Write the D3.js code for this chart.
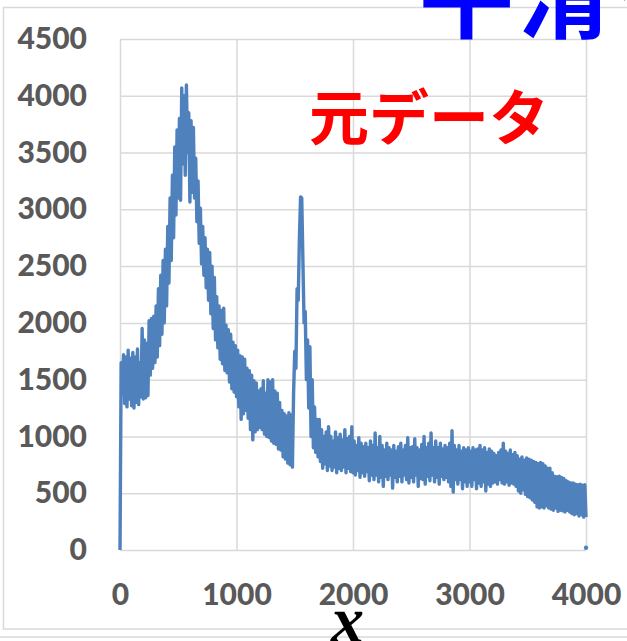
<!DOCTYPE html>
<html>
<head>
<meta charset="utf-8">
<script src="https://cdn.jsdelivr.net/npm/d3@7"></script>
<style>
  html, body { margin: 0; padding: 0; background: #fff; }
  svg { display: block; }
</style>
</head>
<body>
<svg id="chart" width="627" height="641"></svg>
<script>
// Raw signal, sampled every 10 units along x (one row = 100 units, starting at x = 0)
const sampleStep = 10;
const rawValues = [
  0, 1650, 1380, 1720, 1290, 1700, 1260, 1760, 1330, 1690,
  1270, 1740, 1250, 1700, 1300, 1770, 1280, 1650, 1350, 1950,
  1330, 1850, 1340, 1820, 1360, 2020, 1540, 2040, 1600, 2060,
  1650, 2150, 1700, 2300, 1800, 2420, 1900, 2550, 2000, 2650,
  2150, 2850, 2350, 3100, 2550, 3300, 2750, 3550, 2950, 3700,
  3100, 3800, 3080, 4070, 3400, 4000, 3300, 4095, 3500, 3850,
  3065, 3780, 3150, 3720, 3100, 3450, 2890, 3250, 2700, 3010,
  2520, 2850, 2420, 2750, 2310, 2650, 2200, 2620, 2080, 2500,
  1950, 2400, 1850, 2230, 1780, 2150, 1680, 2110, 1640, 2130,
  1580, 1980, 1560, 1940, 1480, 1900, 1420, 1830, 1390, 1800,
  1350, 1760, 1260, 1710, 1150, 1700, 1200, 1680, 1230, 1600,
  1160, 1580, 1060, 1540, 970, 1490, 1040, 1470, 1060, 1400,
  1080, 1420, 1060, 1490, 1020, 1380, 1000, 1500, 990, 1480,
  960, 1500, 940, 1400, 930, 1380, 890, 1300, 880, 1230,
  820, 1200, 800, 1180, 765, 1210, 750, 1190, 730, 1380,
  1750, 1600, 2300, 2200, 2750, 3110, 3100, 2550, 2000, 2100,
  1500, 1850, 1250, 1790, 1000, 1500, 900, 1260, 860, 1150,
  820, 1150, 780, 1060, 720, 1000, 760, 1040, 700, 1085,
  740, 1000, 700, 960, 730, 1040, 680, 990, 720, 1020,
  700, 970, 730, 1060, 680, 980, 720, 1000, 690, 1085,
  680, 960, 660, 920, 700, 990, 640, 940, 680, 910,
  650, 940, 690, 900, 610, 960, 660, 920, 620, 1030,
  660, 900, 600, 1000, 640, 920, 560, 880, 650, 940,
  620, 900, 660, 880, 545, 920, 640, 870, 600, 910,
  650, 940, 600, 880, 660, 920, 620, 990, 590, 900,
  640, 910, 600, 980, 660, 900, 560, 880, 630, 930,
  620, 1000, 580, 900, 650, 940, 610, 1030, 660, 900,
  600, 960, 640, 900, 580, 940, 650, 890, 620, 920,
  640, 900, 600, 940, 560, 1050, 510, 920, 620, 880,
  580, 920, 620, 870, 540, 900, 600, 880, 560, 900,
  600, 870, 560, 900, 620, 880, 540, 890, 590, 920,
  560, 880, 600, 900, 520, 860, 580, 890, 560, 870,
  590, 850, 600, 830, 580, 860, 620, 880, 590, 940,
  580, 870, 600, 850, 570, 880, 590, 840, 580, 860,
  560, 830, 520, 800, 500, 820, 530, 790, 490, 810,
  470, 800, 460, 790, 440, 780, 420, 770, 380, 760,
  370, 770, 380, 760, 370, 740, 390, 720, 370, 720,
  360, 680, 350, 650, 370, 645, 340, 650, 350, 640,
  345, 630, 335, 610, 350, 600, 335, 590, 320, 590,
  310, 580, 320, 575, 300, 580, 310, 570, 290, 575,
  290
];
// Separate last reading at the right end of the range
const endReading = [{ x: 4000, v: 20 }];

const xTicks = [0, 1000, 2000, 3000, 4000];
const yTicks = [0, 500, 1000, 1500, 2000, 2500, 3000, 3500, 4000, 4500];

const titleText = "平滑化";
const seriesLabel = "元データ";
const xAxisTitle = "x";

const svg = d3.select("#chart");
const W = 627, H = 641;
const plot = { left: 120, right: 586, top: 39, bottom: 550 };

const x = d3.scaleLinear().domain([0, 4000]).range([plot.left, plot.right]);
const y = d3.scaleLinear().domain([0, 4500]).range([plot.bottom, plot.top]);

// chart frame and the edge of the next panel below
svg.append("rect")
  .attr("x", 3.5).attr("y", 7.5)
  .attr("width", W + 10).attr("height", 621.5)
  .attr("fill", "none").attr("stroke", "#d9d9d9").attr("stroke-width", 1.5);
svg.append("line")
  .attr("x1", 0).attr("x2", W).attr("y1", 637).attr("y2", 637)
  .attr("stroke", "#d9d9d9").attr("stroke-width", 1.5);

const tickFont = "Lato, 'Open Sans', sans-serif";
const fmt = d3.format("d");

// y axis: gridlines + labels
const yAxis = svg.append("g")
  .attr("transform", `translate(${plot.left},0)`)
  .call(d3.axisLeft(y).tickValues(yTicks).tickFormat(fmt)
    .tickSize(-(plot.right - plot.left)).tickPadding(33));
yAxis.select(".domain").remove();
yAxis.selectAll(".tick line").attr("stroke", "#d9d9d9").attr("stroke-width", 1.5);
yAxis.selectAll(".tick text")
  .attr("fill", "#595959").style("font-family", tickFont)
  .style("font-size", "30px").style("font-weight", "900");

// x axis: gridlines + labels
const xAxis = svg.append("g")
  .attr("transform", `translate(0,${plot.bottom})`)
  .call(d3.axisBottom(x).tickValues(xTicks).tickFormat(fmt)
    .tickSize(-(plot.bottom - plot.top)).tickPadding(34));
xAxis.select(".domain").remove();
xAxis.selectAll(".tick line").attr("stroke", "#d9d9d9").attr("stroke-width", 1.5);
xAxis.selectAll(".tick text")
  .attr("fill", "#595959").style("font-family", tickFont)
  .style("font-size", "30px").style("font-weight", "900");

// the raw signal
const line = d3.line()
  .x((d, i) => x(i * sampleStep))
  .y(d => y(d));
svg.append("path")
  .datum(rawValues)
  .attr("d", line)
  .attr("fill", "none")
  .attr("stroke", "#4f81bd")
  .attr("stroke-width", 3.4)
  .attr("stroke-linejoin", "round");

svg.selectAll("circle.end")
  .data(endReading)
  .join("circle")
  .attr("class", "end")
  .attr("cx", d => x(d.x)).attr("cy", d => y(d.v))
  .attr("r", 2.2).attr("fill", "#4f81bd");

// headings
const cjk = "'Noto Sans CJK JP', 'Noto Sans CJK SC', sans-serif";
svg.append("text")
  .attr("x", 419).attr("y", 31)
  .attr("fill", "#0000ff")
  .style("font-family", cjk).style("font-weight", "bold").style("font-size", "95px")
  .style("letter-spacing", "4px")
  .text(titleText);

svg.append("text")
  .attr("x", 309).attr("y", 140)
  .attr("fill", "#ff0000")
  .style("font-family", cjk).style("font-weight", "bold").style("font-size", "60px")
  .text(seriesLabel);

svg.append("text")
  .attr("x", 331).attr("y", 642)
  .attr("fill", "#000")
  .style("font-family", "'Liberation Serif', 'DejaVu Serif', serif")
  .style("font-style", "italic").style("font-weight", "bold").style("font-size", "66px")
  .text(xAxisTitle);
</script>
</body>
</html>
